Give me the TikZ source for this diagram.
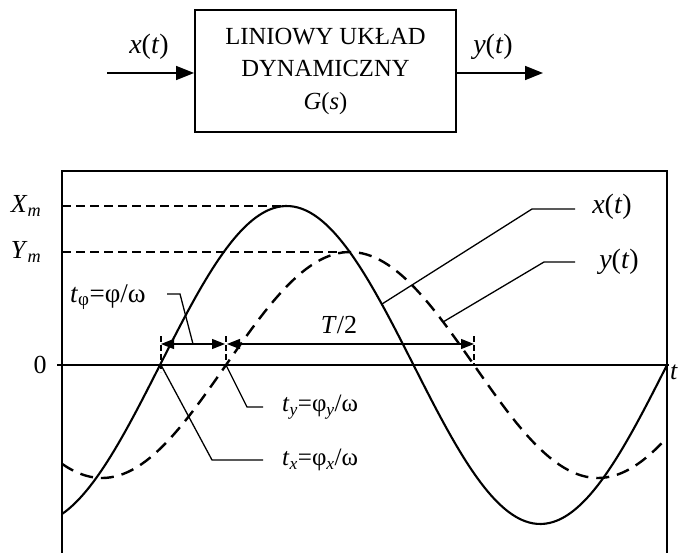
\documentclass[tikz,border=0pt]{standalone}
\usepackage{fontspec}
\setmainfont{Liberation Serif}
\usetikzlibrary{arrows.meta}
\begin{document}
\begin{tikzpicture}[x=1pt,y=-1pt,
  bigarrow/.style={line width=1.6pt,-{Triangle[length=18pt,width=14pt]}},
  dimarrow/.style={line width=1.3pt,{Triangle[length=13pt,width=10pt]}-{Triangle[length=13pt,width=10pt]}},
  leader/.style={line width=1.3pt},
  tickmark/.style={line width=1.2pt,dash pattern=on 6pt off 3pt},
  level/.style={line width=1.5pt,dash pattern=on 9pt off 5pt},
  frame/.style={line width=2pt},
  curve/.style={line width=2.1pt},
  lab/.style={font=\fontsize{26}{30}\selectfont,inner sep=0pt},
  siglab/.style={font=\fontsize{28}{32}\selectfont,inner sep=0pt},
  small/.style={font=\fontsize{25}{29}\selectfont,inner sep=0pt,anchor=west}
]
\useasboundingbox (0,0) rectangle (679,553);
% block
\node[draw,line width=1.9pt,minimum width=261pt,minimum height=122pt,align=center,
      font=\fontsize{24.6}{32.5}\selectfont] (box) at (325.5,71)
  {LINIOWY UKŁAD\\DYNAMICZNY\\\textit{G}(\textit{s})};
\coordinate (in) at (107,73);
\coordinate (out) at (543,73);
\draw[bigarrow] (in) -- (in -| box.west);
\draw[bigarrow] (box.east |- out) -- (out);
\node[siglab] (xin) at (149,47) {\textit{x}(\textit{t})};
\node[siglab] (yout) at (493,47) {\textit{y}(\textit{t})};
% frame
\coordinate (fbl) at (62,553);
\coordinate (ftl) at (62,171);
\coordinate (ftr) at (667,171);
\coordinate (fbr) at (667,553);
\draw[frame] (fbl) -- (ftl) -- (ftr) -- (fbr);
% axis
\coordinate (a0) at (57,365);
\coordinate (a1) at (669,365);
\draw[line width=1.5pt] (a0) -- (a1);
\node[lab] (zero) at (40,365) {0};
\node[lab,anchor=west,inner sep=0pt] (tcut) at (670,372) {\textit{t}};
% levels
\node[lab] (xm) at (26,206) {\textit{X}\textsubscript{\textit{m}}};
\node[lab] (ym) at (26,252) {\textit{Y}\textsubscript{\textit{m}}};
\coordinate (xpk) at (287,206);
\coordinate (ypk) at (350,252);
\draw[level] (62,206) -- (xpk);
\draw[level] (62,252) -- (ypk);
% curves
\draw[curve, domain=62:667, samples=150, smooth] plot (\x,{365-159*sin((\x-160)/507*360)});
\draw[curve, line width=2.4pt, dash pattern=on 13pt off 8pt, domain=62:667, samples=150, smooth] plot (\x,{365-113*sin((\x-226)/496*360)});
% dimension
\coordinate (t1) at (161,365);
\coordinate (t2) at (226,365);
\coordinate (t3) at (474,365);
\draw[tickmark] (161,336) -- (161,372);
\draw[tickmark] (226,336) -- (226,362);
\draw[tickmark] (474,336) -- (474,365);
\draw[dimarrow] (161,344) -- (225,344);
\draw[dimarrow] (227,344) -- (474,344);
\node[lab] (half) at (339,325) {\textit{T}/2};
% leaders and labels
\node[small,font=\fontsize{27}{31}\selectfont] (tphi) at (70,297) {\textit{t}\textsubscript{φ}=φ/ω};
\draw[leader] (167,294) -- (180,294) -- (193,344);
\node[siglab] (xl) at (612,207) {\textit{x}(\textit{t})};
\draw[leader] (382,304) -- (532,209) -- (575,209);
\node[siglab] (yl) at (619,262) {\textit{y}(\textit{t})};
\draw[leader] (443,322) -- (544,262) -- (575,262);
\node[small] (ty) at (282,407) {\textit{t}\textsubscript{\textit{y}}=φ\textsubscript{\textit{y}}/ω};
\draw[leader] (t2) -- (247,407) -- (263,407);
\node[small] (tx) at (282,460) {\textit{t}\textsubscript{\textit{x}}=φ\textsubscript{\textit{x}}/ω};
\draw[leader] (t1) -- (212,460) -- (263,460);
\end{tikzpicture}
\end{document}
